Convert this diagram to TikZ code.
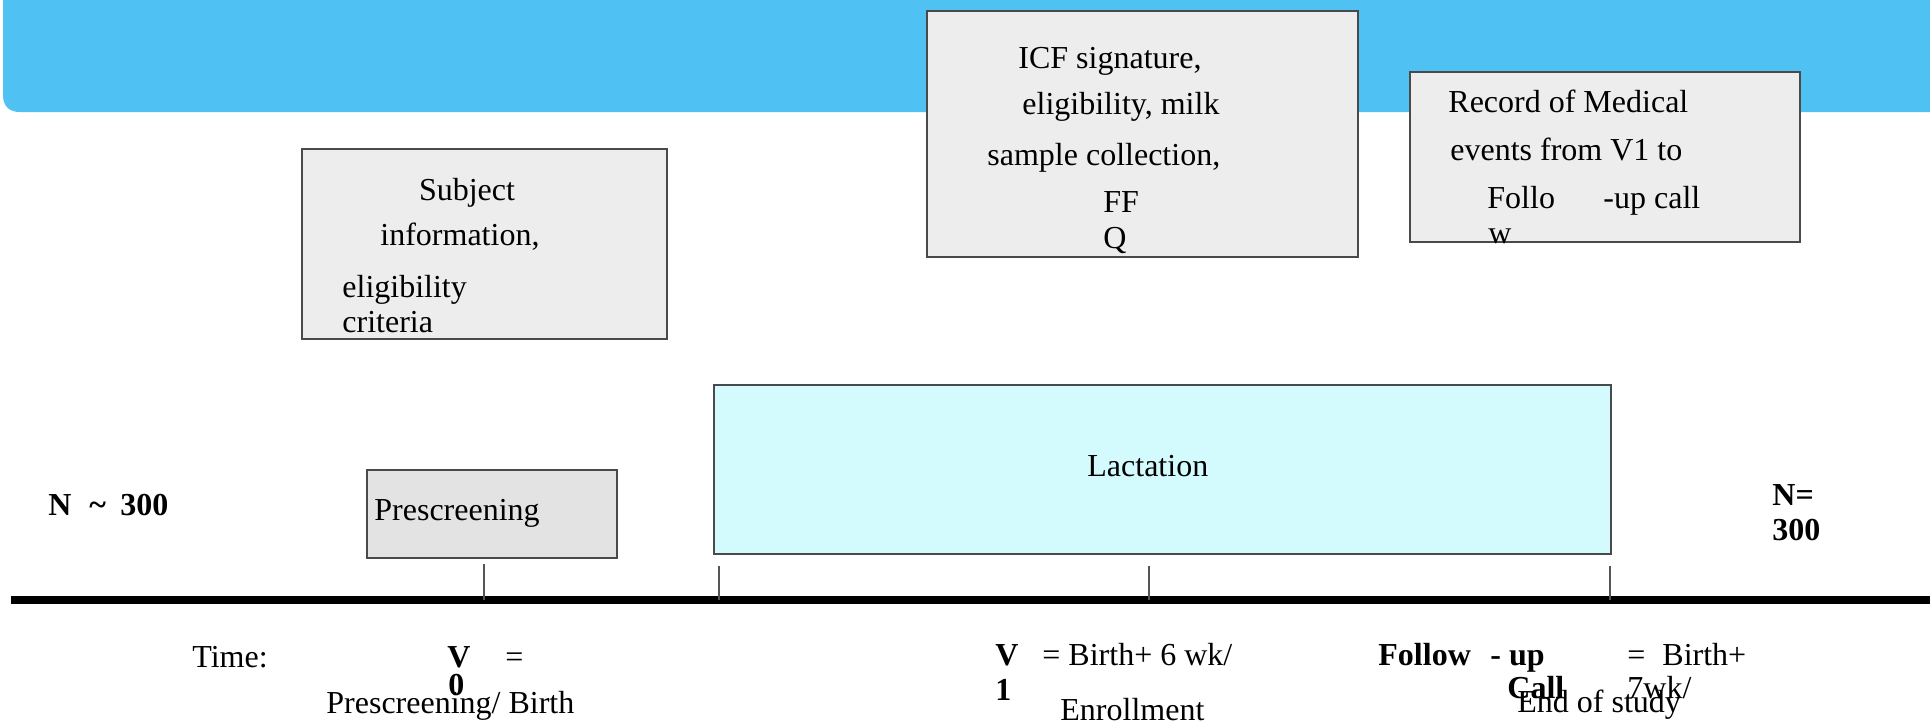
\documentclass[tikz,border=0pt]{standalone}
\usepackage{fontspec}
\setmainfont{Liberation Serif}
\definecolor{bandblue}{HTML}{4FC1F2}
\definecolor{boxgray}{HTML}{EDEDED}
\definecolor{preGray}{HTML}{E3E3E3}
\definecolor{lactCyan}{HTML}{D3FBFD}
\definecolor{edgeGray}{HTML}{4A4A4A}
\definecolor{tickGray}{HTML}{555555}
\begin{document}
\begin{tikzpicture}[x=0.5pt,y=-0.5pt,
  box/.style={draw=edgeGray, line width=1.1pt, fill=boxgray, inner sep=0, outer sep=0},
  txt/.style={anchor=base west, inner sep=0, font=\fontsize{16}{18}\selectfont},
  btxt/.style={anchor=base west, inner sep=0, font=\fontsize{16}{18}\selectfont\bfseries},
  tickline/.style={draw=tickGray, line width=0.8pt}]
\useasboundingbox (0,0) rectangle (1930,723);
% blue band
\fill[bandblue] (3,0) -- (1930,0) -- (1930,112) -- (20,112) .. controls (9,112) and (3,106) .. (3,95) -- cycle;
% boxes
\node[box, minimum width=182.5pt, minimum height=95pt] (subj) at (484.5,244) {};
\node[box, minimum width=215.5pt, minimum height=123pt] (icf) at (1142.5,134) {};
\node[box, minimum width=195pt, minimum height=85pt] (rec) at (1605,157) {};
\node[box, fill=preGray, minimum width=125pt, minimum height=44pt] (pre) at (492,514) {};
\node[box, fill=lactCyan, minimum width=448.5pt, minimum height=84.5pt] (lact) at (1162.5,469.5) {};
% timeline
\coordinate (tlA) at (11,600);
\coordinate (tlB) at (1930,600);
\draw[line width=4pt, black] (tlA) -- (tlB);
\coordinate (k0) at (484,564);
\coordinate (k1) at (719,566);
\coordinate (k2) at (1149,566);
\coordinate (k3) at (1610,566);
\foreach \k in {k0,k1,k2,k3} \draw[tickline] (\k) -- (\k |- tlA);
% subject box text
\node[anchor=base, inner sep=0, font=\fontsize{16}{18}\selectfont] (s1) at (467,200) {Subject};
\node[txt] (s2) at (380,245) {information,};
\node[txt] (s3) at (342,297) {eligibility};
\node[txt] (s4) at (342,332) {criteria};
% ICF box text
\node[txt] (i1) at (1018,68) {ICF signature,};
\node[txt] (i2) at (1022,114) {eligibility, milk};
\node[txt] (i3) at (987,165) {sample collection,};
\node[txt] (i4) at (1103,212) {FF};
\node[txt] (i5) at (1103,248) {Q};
% record box text
\node[txt] (r1) at (1448,112) {Record of Medical};
\node[txt] (r2) at (1450,160) {events from V1 to};
\node[txt] (r3) at (1487,208) {Follo};
\node[txt] (r4) at (1603,208) {-up call};
\node[txt] (r5) at (1488,243) {w};
% inner labels
\node[txt] (pl) at (374,520) {Prescreening};
\node[txt] (ll) at (1087,476) {Lactation};
\node[btxt] (n1a) at (48,515) {N};
\node[btxt] (n1b) at (89,515) {\textasciitilde};
\node[btxt] (n1c) at (120,515) {300};
\node[btxt] (n2) at (1772,505) {N=};
\node[btxt] (n3) at (1772,540) {300};
% bottom time labels
\node[txt] (t1) at (192,667) {Time:};
\node[btxt] (v0a) at (447,667) {V};
\node[txt] (v0b) at (505,667) {=};
\node[btxt] (v0c) at (448,695) {0};
\node[txt] (v0d) at (326,713) {Prescreening/ Birth};
\node[btxt] (v1a) at (995,665) {V};
\node[txt] (v1b) at (1042,665) {= Birth+ 6 wk/};
\node[btxt] (v1c) at (995,700) {1};
\node[txt] (v1d) at (1060,720) {Enrollment};
\node[btxt] (f1) at (1378,665) {Follow};
\node[btxt] (f2) at (1490,665) {- up};
\node[txt] (f3) at (1627,665) {=};
\node[txt] (f4) at (1662,665) {Birth+};
\node[btxt] (f5) at (1507,698) {Call};
\node[txt] (f6) at (1627,698) {7wk/};
\node[txt] (f7) at (1517,712) {End of study};
\end{tikzpicture}
\end{document}
